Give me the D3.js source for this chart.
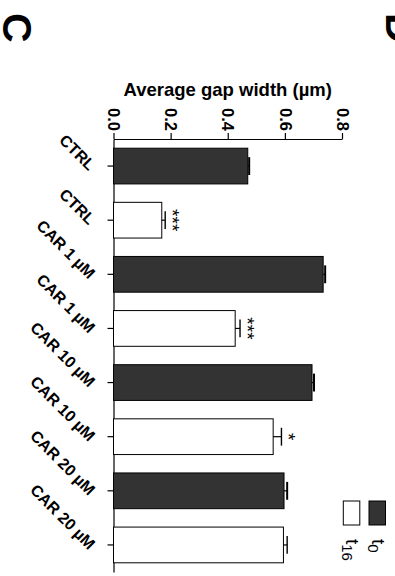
<!DOCTYPE html>
<html>
<head>
<meta charset="utf-8">
<script src="https://cdn.jsdelivr.net/npm/d3@7"></script>
<style>
  body { margin: 0; background: #fff; }
  svg { display: block; font-family: "Liberation Sans", Arial, sans-serif; }
</style>
</head>
<body>
<div id="chart"></div>
<script>
(function() {

  const categories = ['CTRL', 'CTRL', 'CAR 1 µM', 'CAR 1 µM', 'CAR 10 µM', 'CAR 10 µM', 'CAR 20 µM', 'CAR 20 µM'];
  const times = ['t0', 't16', 't0', 't16', 't0', 't16', 't0', 't16'];
  const means = [0.470, 0.169, 0.734, 0.426, 0.695, 0.559, 0.597, 0.595];
  const errors = [0.005, 0.012, 0.007, 0.017, 0.007, 0.029, 0.011, 0.013];
  const stars = ['', '***', '', '***', '', '*', '', ''];
  const xTicks = [0, 0.2, 0.4, 0.6, 0.8];
  const legendItems = [{ key: 't0', sub: '0' }, { key: 't16', sub: '16' }];

  const colors = { t0: '#333333', t16: '#ffffff' };

  const size = { x: 395, y: 576 };
  const plotPos = { x: 113.5, y: 139 };
  const plotSize = { x: 228.5, y: 433 };

  const svg = d3.select('#chart')
    .append('svg')
    .attr('width', size.x)
    .attr('height', size.y);

  const data = means.map((m, i) => ({
    i: i,
    cat: categories[i],
    time: times[i],
    mean: m,
    err: errors[i],
    star: stars[i]
  }));

  const xScale = d3.scaleLinear()
    .domain([0, 0.8])
    .range([plotPos.x, plotPos.x + plotSize.x]);

  const yScale = d3.scaleBand()
    .domain(d3.range(categories.length))
    .range([plotPos.y, plotPos.y + plotSize.y])
    .paddingInner(0.34)
    .paddingOuter(0.17);

  // panel letters (whole figure is turned a quarter)
  svg.append('text')
    .attr('transform', 'translate(3,13) rotate(90)')
    .attr('font-size', 41)
    .attr('font-weight', 'bold')
    .text('C');
  svg.append('text')
    .attr('transform', 'translate(386,13) rotate(90)')
    .attr('font-size', 41)
    .attr('font-weight', 'bold')
    .text('D');

  // title
  svg.append('text')
    .attr('x', (xScale(0) + xScale(0.8)) / 2)
    .attr('y', 96)
    .attr('text-anchor', 'middle')
    .attr('font-size', 18.5)
    .attr('font-weight', 'bold')
    .text('Average gap width (µm)');

  // top axis
  const xAxis = svg.append('g')
    .attr('transform', `translate(0,${plotPos.y})`)
    .call(d3.axisTop(xScale)
      .tickValues(xTicks)
      .tickSize(6)
      .tickSizeOuter(0)
      .tickFormat(d3.format('.1f')));
  xAxis.select('.domain').attr('stroke', '#000').attr('stroke-width', 1.2);
  xAxis.selectAll('.tick line').attr('stroke', '#000').attr('stroke-width', 1.2);
  xAxis.selectAll('.tick text')
    .attr('fill', '#000')
    .attr('font-family', '"Liberation Sans", Arial, sans-serif')
    .attr('font-size', 16.5)
    .attr('font-weight', 'bold')
    .attr('text-anchor', 'end')
    .attr('x', 0)
    .attr('y', 0)
    .attr('dy', '0.35em')
    .attr('transform', 'translate(0,-8) rotate(90)');

  // left axis
  const yAxis = svg.append('g')
    .attr('transform', `translate(${plotPos.x},0)`)
    .call(d3.axisLeft(yScale)
      .tickSize(6)
      .tickSizeOuter(0)
      .tickFormat(i => categories[i]));
  yAxis.select('.domain').attr('stroke', '#000').attr('stroke-width', 1.2);
  yAxis.selectAll('.tick line').attr('stroke', '#000').attr('stroke-width', 1.2);
  yAxis.selectAll('.tick text')
    .attr('fill', '#000')
    .attr('font-family', '"Liberation Sans", Arial, sans-serif')
    .attr('font-size', 16)
    .attr('font-weight', 'bold')
    .attr('text-anchor', 'end')
    .attr('x', 0)
    .attr('y', 0)
    .attr('dy', '0.35em')
    .attr('transform', 'translate(-21,1.5) rotate(45)');

  // bars
  svg.selectAll('.bar')
    .data(data)
    .enter()
    .append('rect')
      .attr('class', 'bar')
      .attr('x', xScale(0))
      .attr('y', d => yScale(d.i))
      .attr('width', d => xScale(d.mean) - xScale(0))
      .attr('height', yScale.bandwidth())
      .attr('fill', d => colors[d.time])
      .attr('stroke', '#000')
      .attr('stroke-width', 1);

  // error bars, one sided
  const errG = svg.selectAll('.err')
    .data(data)
    .enter()
    .append('g')
      .attr('class', 'err');
  errG.append('line')
    .attr('x1', d => xScale(d.mean))
    .attr('x2', d => xScale(d.mean + d.err))
    .attr('y1', d => yScale(d.i) + yScale.bandwidth() / 2)
    .attr('y2', d => yScale(d.i) + yScale.bandwidth() / 2)
    .attr('stroke', '#000')
    .attr('stroke-width', 1.2);
  errG.append('line')
    .attr('x1', d => xScale(d.mean + d.err))
    .attr('x2', d => xScale(d.mean + d.err))
    .attr('y1', d => yScale(d.i) + yScale.bandwidth() * 0.25)
    .attr('y2', d => yScale(d.i) + yScale.bandwidth() * 0.75)
    .attr('stroke', '#000')
    .attr('stroke-width', d => d.time === 't0' ? 2 : 1.4);

  // significance stars
  svg.selectAll('.star')
    .data(data.filter(d => d.star))
    .enter()
    .append('text')
      .attr('class', 'star')
      .attr('transform', d => `translate(${xScale(d.mean + d.err) + 0.5},${yScale(d.i) + yScale.bandwidth() / 2}) rotate(90)`)
      .attr('text-anchor', 'middle')
      .attr('fill', '#000')
      .attr('font-size', 19)
      .text(d => d.star);

  // legend
  const legend = svg.selectAll('.legend')
    .data(legendItems)
    .enter()
    .append('g')
      .attr('class', 'legend')
      .attr('transform', (d, i) => `translate(${369 - i * 25.7},501)`);
  legend.append('rect')
    .attr('width', 16.5)
    .attr('height', 24)
    .attr('fill', d => colors[d.key])
    .attr('stroke', '#000')
    .attr('stroke-width', 1);
  const legText = legend.append('text')
    .attr('transform', 'translate(2.5,38) rotate(90)')
    .attr('fill', '#000')
    .attr('font-size', 19);
  legText.append('tspan').text('t');
  legText.append('tspan')
    .attr('dy', '0.25em')
    .attr('font-size', 15)
    .text(d => d.sub);

}());
</script>
</body>
</html>
